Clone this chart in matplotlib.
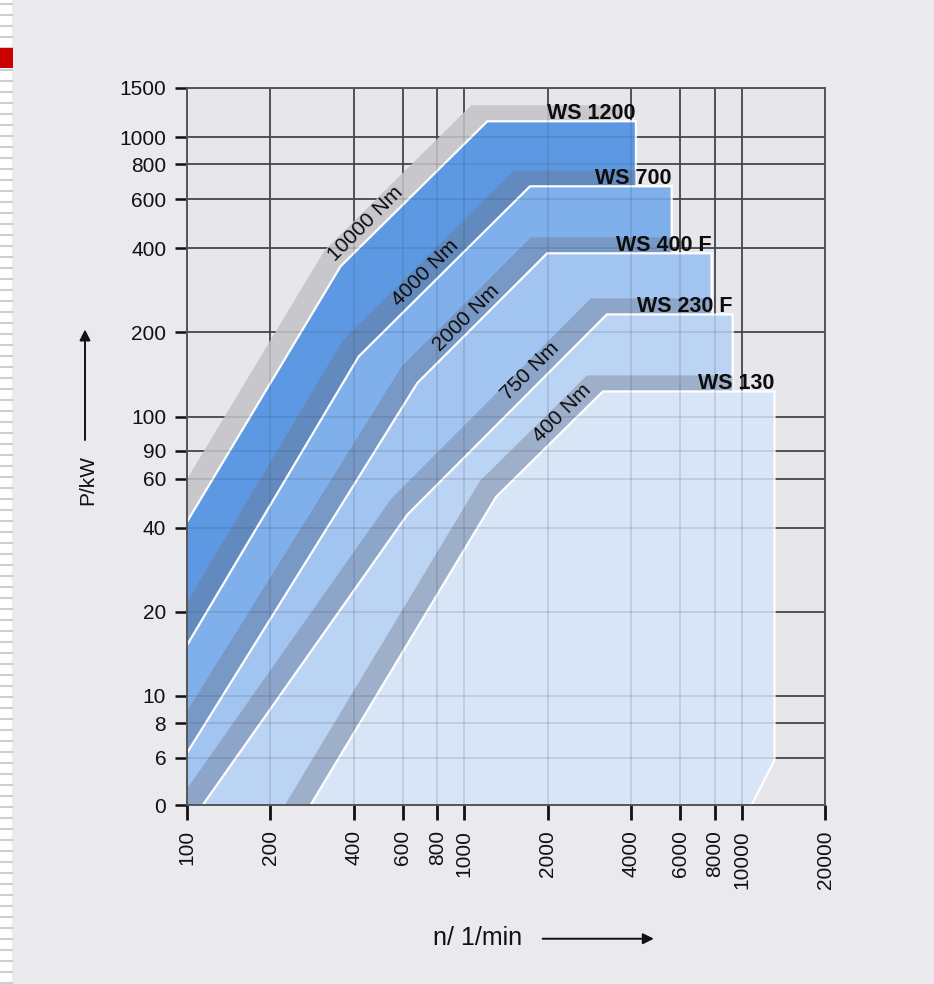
import numpy as np
import matplotlib
matplotlib.use('Agg')
from matplotlib import pyplot as plt
from matplotlib.patches import Polygon, Rectangle, FancyArrowPatch
from matplotlib.lines import Line2D

plt.rcParams['font.family'] = ['Liberation Sans', 'DejaVu Sans']

# dynamometer ranges, biggest first (drawn in this order)
models = ['WS 1200', 'WS 700', 'WS 400 F', 'WS 230 F', 'WS 130']
# corner points of the rising boundary: n in 1/min, P in kW
edge_n = [[100, 358, 1211], [100, 416, 1726], [100, 678, 1990], [114, 624, 3267], [279, 1303, 3162]]
edge_p = [[42, 345, 1140], [15.2, 164, 667], [6.25, 132, 384], [4.07, 44.6, 232], [4.07, 51.6, 123]]
n_max = [4160, 5600, 7800, 9290, 13150]
# WS 130 has a cut corner at the bottom right
cut_n = [None, None, None, None, 10870]
cut_p = [None, None, None, None, 5.9]

torque_labels = ['10000 Nm', '4000 Nm', '2000 Nm', '750 Nm', '400 Nm']

x_ticks = [100, 200, 400, 600, 800, 1000, 2000, 4000, 6000, 8000, 10000, 20000]
x_labels = [str(v) for v in x_ticks]
y_ticks = [4.07, 6, 8, 10, 20, 40, 60, 75.5, 100, 200, 400, 600, 800, 1000, 1500]
y_labels = ['0', '6', '8', '10', '20', '40', '60', '90', '100', '200', '400', '600', '800', '1000', '1500']

fills = ['#5d99e2', '#7fb0ec', '#a1c4f0', '#bcd4f3', '#d8e5f6']
floor = 0.01
# shadow offset, roughly 16 px up-left
sx = 10 ** (-16 / 277)
sy = 10 ** (16 / 279)


def outline(i):
    n = np.array(edge_n[i], dtype=float)
    p = np.array(edge_p[i], dtype=float)
    # run the first segment on down-left, out of the axes
    k = np.log10(p[1] / p[0]) / np.log10(n[1] / n[0])
    n0 = n[0] / 10 ** 0.6
    p0 = p[0] / 10 ** (0.6 * k)
    pts = [(n0, floor), (n0, p0)] + list(zip(n, p)) + [(n_max[i], p[-1])]
    if cut_n[i] is not None:
        pts += [(n_max[i], cut_p[i]), (cut_n[i], 4.07), (cut_n[i], floor)]
    else:
        pts += [(n_max[i], floor)]
    return np.array(pts)


fig = plt.figure(figsize=(9.34, 9.84), dpi=100, facecolor='#e9e9ee')
ax = fig.add_axes([0.2002, 0.1819, 0.6831, 0.7287])
ax.set_facecolor('#e7e6eb')
ax.set_xscale('log')
ax.set_yscale('log')
ax.set_xlim(100, 20000)
ax.set_ylim(4.07, 1500)

prev = None
for i, name in enumerate(models):
    pts = outline(i)

    # shadow, shifted up-left
    sh = pts * [sx, sy]
    if prev is None:
        shadow = Polygon(sh, closed=True, facecolor='#c8c8cc', lw=0, zorder=2 + 2 * i)
        ax.add_patch(shadow)
    else:
        shadow = Polygon(sh, closed=True, facecolor='#6e7388', alpha=0.38, lw=0, zorder=2 + 2 * i)
        ax.add_patch(shadow)
        shadow.set_clip_path(prev)

    body = Polygon(pts, closed=True, facecolor=fills[i], lw=0, zorder=3 + 2 * i)
    ax.add_patch(body)
    ax.plot(pts[1:, 0], pts[1:, 1], color='white', lw=1.6, zorder=3.5 + 2 * i,
            solid_joinstyle='miter')
    prev = body

    ax.annotate(name, xy=(n_max[i], edge_p[i][-1]), xytext=(0, 1.5), textcoords='offset points',
                ha='right', va='baseline', fontsize=15.5, fontweight='bold',
                color='#0d0d0d', zorder=30)

# torque labels along the constant torque lines
label_pos = [(442, 488), (723, 326), (1016, 226), (1730, 145), (2260, 103)]
for txt, (xn, yp) in zip(torque_labels, label_pos):
    ax.text(xn, yp, txt, rotation=45, ha='center', va='center', fontsize=15,
            color='#0d0d0d', zorder=30, rotation_mode='anchor')

# grid, full under the patches and faint over them
ax.set_xticks(x_ticks, x_labels)
ax.set_yticks(y_ticks, y_labels)
ax.minorticks_off()
ax.set_axisbelow(True)
ax.grid(True, color='#4d4d4d', lw=1.3)
for v in x_ticks:
    ax.axvline(v, color='#2a3550', alpha=0.16, lw=1.2, zorder=25)
for v in y_ticks:
    ax.axhline(v, color='#2a3550', alpha=0.16, lw=1.2, zorder=25)

ax.tick_params(axis='y', length=9, width=1.8, pad=6, labelsize=15, colors='#111111')
ax.tick_params(axis='x', length=11, width=2, pad=7, labelsize=15, colors='#111111',
               labelrotation=90)
for s in ax.spines.values():
    s.set_color('#555555')
    s.set_linewidth(1.4)
    s.set_zorder(26)

# axis titles with arrows
fig.text(0.094, 0.512, 'P/kW', rotation=90, ha='center', va='center', fontsize=15,
         color='#111111')
fig.add_artist(FancyArrowPatch((0.091, 0.550), (0.091, 0.668),
               transform=fig.transFigure, arrowstyle='-|>', mutation_scale=16,
               color='#111111', lw=1.4))
fig.text(0.4636, 0.0467, 'n/ 1/min', ha='left', va='center', fontsize=18,
         color='#111111')
fig.add_artist(FancyArrowPatch((0.578, 0.046), (0.703, 0.046),
               transform=fig.transFigure, arrowstyle='-|>', mutation_scale=16,
               color='#111111', lw=1.4))

# slide decoration: striped margin and red mark
fig.add_artist(Rectangle((0, 0), 12 / 934, 1, transform=fig.transFigure,
                         facecolor='white', lw=0, zorder=1))
for yy in np.arange(4, 984, 11):
    fig.add_artist(Line2D([0, 12 / 934], [1 - yy / 984] * 2, transform=fig.transFigure,
                          color='#cfcfcf', lw=1.5, zorder=2))
fig.add_artist(Rectangle((0, 1 - 68 / 984), 13 / 934, 20 / 984, transform=fig.transFigure,
                         facecolor='#cc0000', lw=0, zorder=3))

fig.savefig('out.png', dpi=100, facecolor=fig.get_facecolor())
